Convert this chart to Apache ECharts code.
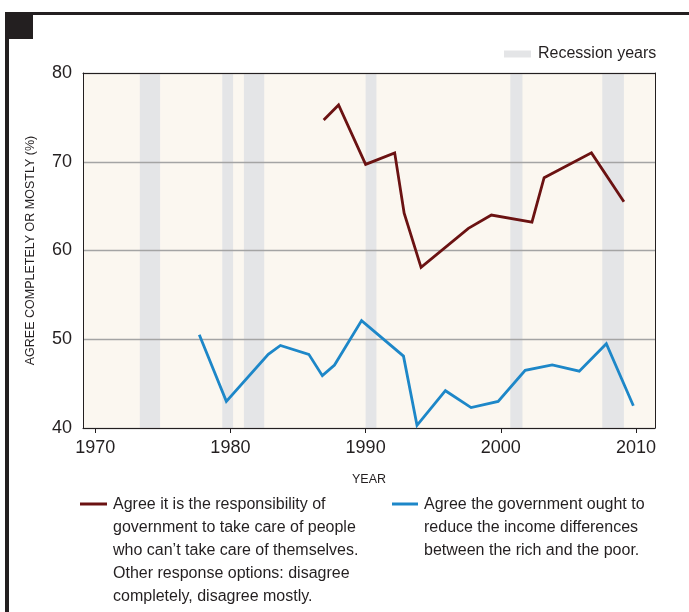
<!DOCTYPE html>
<html>
<head>
<meta charset="utf-8">
<script src="https://cdn.jsdelivr.net/npm/echarts@6/dist/echarts.min.js"></script>
<style>
html,body{margin:0;padding:0;background:#fff;}
#chart{width:689px;height:612px;}
</style>
</head>
<body>
<div id="chart"></div>
<script>
// ---- data ----
const xTickValues = [1970, 1980, 1990, 2000, 2010];
const yTickValues = [40, 50, 60, 70, 80];
const recessionStart = [1973.3, 1979.4, 1981.0, 1990.0, 2000.7, 2007.5];
const recessionEnd   = [1974.8, 1980.2, 1982.5, 1990.8, 2001.6, 2009.1];

const careYears  = [1986.9, 1988.0, 1990.0, 1992.15, 1992.85, 1994.1, 1997.6, 1999.3, 2002.3, 2003.2, 2006.7, 2009.1];
const careValues = [74.7, 76.4, 69.7, 71.0, 64.2, 58.1, 62.5, 64.0, 63.2, 68.2, 71.0, 65.5];

const incomeYears  = [1977.7, 1979.7, 1982.8, 1983.7, 1985.8, 1986.8, 1987.7, 1989.7, 1992.8, 1993.8, 1995.9, 1997.8, 1999.8, 2001.8, 2003.8, 2005.8, 2007.8, 2009.8];
const incomeValues = [50.5, 43.0, 48.3, 49.3, 48.3, 45.9, 47.1, 52.1, 48.1, 40.3, 44.2, 42.3, 43.0, 46.5, 47.1, 46.4, 49.5, 42.5];

const careLabel = ['Agree it is the responsibility of', 'government to take care of people', 'who can\u2019t take care of themselves.', 'Other response options: disagree', 'completely, disagree mostly.'];
const incomeLabel = ['Agree the government ought to', 'reduce the income differences', 'between the rich and the poor.'];
const recessionLabel = 'Recession years';
const yAxisTitle = 'AGREE COMPLETELY OR MOSTLY (%)';
const xAxisTitle = 'YEAR';

// ---- styles ----
const FONT = "'Liberation Sans', Arial, Helvetica, sans-serif";
const INK = '#231f20';
const RED = '#6b1212';
const BLUE = '#1d87c8';
const BAND = '#e4e5e7';
const BG = '#fbf7f0';
const XMIN = 1969.1, XMAX = 2011.4;

const chart = echarts.init(document.getElementById('chart'), null, {renderer: 'canvas'});

const pairs = (xs, ys) => xs.map((x, i) => [x, ys[i]]);

const option = {
  animation: false,
  backgroundColor: '#fff',
  textStyle: {fontFamily: FONT},
  grid: {left: 83, top: 73, right: 34, bottom: 184, show: true, backgroundColor: BG, borderWidth: 0},
  legend: {
    data: [recessionLabel],
    left: 499, top: 41,
    icon: 'rect', itemWidth: 27, itemHeight: 7, itemGap: 0,
    textStyle: {fontFamily: FONT, fontSize: 16, color: INK, padding: [0, 0, 0, 2]},
    selectedMode: false
  },
  xAxis: [{
    type: 'value', min: XMIN, max: XMAX, z: 3,
    name: xAxisTitle, nameLocation: 'middle', nameGap: 45,
    nameTextStyle: {fontFamily: FONT, fontSize: 12.5, color: INK},
    axisLine: {show: true, onZero: false, lineStyle: {color: INK, width: 1}},
    axisTick: {show: true, length: 5, customValues: xTickValues, lineStyle: {color: INK}},
    axisLabel: {customValues: xTickValues, fontFamily: FONT, fontSize: 18, color: INK, margin: 11,
      formatter: v => String(v)},
    splitLine: {show: false}
  }, {
    type: 'value', min: XMIN, max: XMAX, position: 'top', z: 4,
    axisLine: {show: true, onZero: false, lineStyle: {color: INK, width: 1}},
    axisTick: {show: false}, axisLabel: {show: false}, splitLine: {show: false}
  }],
  yAxis: [{
    type: 'value', min: 40, max: 80, interval: 10, z: 3,
    name: yAxisTitle, nameLocation: 'middle', nameGap: 46, nameRotate: 90,
    nameTextStyle: {fontFamily: FONT, fontSize: 12.5, color: INK},
    axisLine: {show: true, onZero: false, lineStyle: {color: INK, width: 1}},
    axisTick: {show: false},
    axisLabel: {fontFamily: FONT, fontSize: 18, color: INK, margin: 11,
      formatter: v => yTickValues.includes(v) ? String(v) : ''},
    splitLine: {show: true, lineStyle: {color: '#a4a4a4', width: 1.3}}
  }, {
    type: 'value', min: 40, max: 80, position: 'right', z: 4,
    axisLine: {show: true, onZero: false, lineStyle: {color: INK, width: 1}},
    axisTick: {show: false}, axisLabel: {show: false}, splitLine: {show: false}
  }],
  series: [{
    name: recessionLabel, type: 'line', data: [], z: 1, silent: true,
    itemStyle: {color: BAND}, lineStyle: {color: BAND},
    markArea: {
      silent: true, itemStyle: {color: BAND},
      data: recessionStart.map((s, i) => [{xAxis: s}, {xAxis: recessionEnd[i]}])
    }
  }, {
    name: careLabel.join(' '), type: 'line', z: 5,
    data: pairs(careYears, careValues),
    showSymbol: false, symbol: 'none',
    lineStyle: {color: RED, width: 2.8, join: 'miter'}, itemStyle: {color: RED}
  }, {
    name: incomeLabel.join(' '), type: 'line', z: 5,
    data: pairs(incomeYears, incomeValues),
    showSymbol: false, symbol: 'none',
    lineStyle: {color: BLUE, width: 2.8, join: 'miter'}, itemStyle: {color: BLUE}
  }],
  graphic: [
    // outer frame decoration
    {type: 'rect', shape: {x: 5, y: 12, width: 684, height: 3}, style: {fill: INK}, silent: true},
    {type: 'rect', shape: {x: 5, y: 12, width: 4, height: 600}, style: {fill: INK}, silent: true},
    {type: 'rect', shape: {x: 5, y: 12, width: 28, height: 27}, style: {fill: INK}, silent: true},
    // series legend (bottom)
    {type: 'line', shape: {x1: 80, y1: 504, x2: 107, y2: 504}, style: {stroke: RED, lineWidth: 3}, silent: true},
    {type: 'text', x: 113, y: 493, style: {text: careLabel.join('\n'), font: '16px ' + FONT, fill: INK, lineHeight: 23, verticalAlign: 'top'}, silent: true},
    {type: 'line', shape: {x1: 392, y1: 504, x2: 418, y2: 504}, style: {stroke: BLUE, lineWidth: 3}, silent: true},
    {type: 'text', x: 424, y: 493, style: {text: incomeLabel.join('\n'), font: '16px ' + FONT, fill: INK, lineHeight: 23, verticalAlign: 'top'}, silent: true}
  ]
};
chart.setOption(option);
</script>
</body>
</html>
